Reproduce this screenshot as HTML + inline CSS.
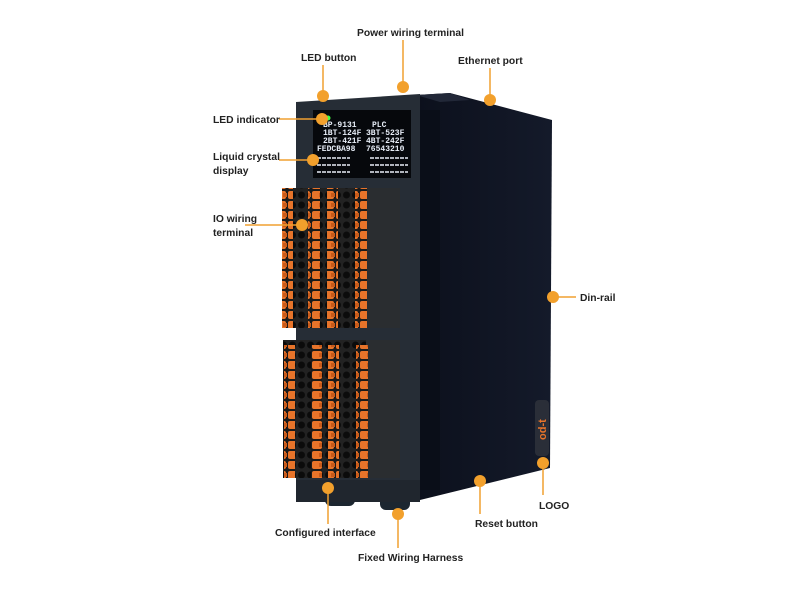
<!DOCTYPE html>
<html><head><meta charset="utf-8"><style>
html,body{margin:0;padding:0;background:#fff}
svg{display:block}
text{font-family:"Liberation Sans",sans-serif;font-size:10.3px;font-weight:bold;fill:#222}
</style></head><body>
<svg width="800" height="600" viewBox="0 0 800 600" xmlns="http://www.w3.org/2000/svg">
<defs>
<pattern id="or" width="12" height="10" patternUnits="userSpaceOnUse">
<rect width="12" height="10" fill="#1a1a1a"/>
<rect x="0" y="1" width="10" height="8" rx="2" fill="#e8742a"/>
<rect x="7" y="3" width="4" height="4" fill="#c85a1a"/>
</pattern>
<pattern id="bk" width="9" height="10" patternUnits="userSpaceOnUse">
<rect width="9" height="10" fill="#222"/>
<circle cx="4.5" cy="5" r="3.5" fill="#0b0b0b"/>
</pattern>
<linearGradient id="side" x1="0" x2="1"><stop offset="0" stop-color="#0c101c"/><stop offset="1" stop-color="#141a2a"/></linearGradient>
</defs>
<rect x="325" y="478" width="30" height="28" rx="6" fill="#1c2630"/>
<rect x="380" y="478" width="30" height="32" rx="6" fill="#1c2630"/>
<polygon points="416,95 450,93 552,120 550,468 420,500" fill="url(#side)"/>
<polygon points="416,95 450,93 470,100 440,102" fill="#222838"/>
<rect x="420" y="110" width="20" height="380" fill="#0a0e18"/>
<polygon points="296,102 420,94 420,502 296,500" fill="#262d36"/>
<rect x="296" y="480" width="124" height="22" fill="#20262e"/>
<rect x="313" y="110" width="98" height="68" fill="#06080c"/>
<g>
<text x="323" y="127" style="font-family:'Liberation Mono',monospace;font-size:8px;fill:#e8eef8">BP-9131</text>
<text x="323" y="135" style="font-family:'Liberation Mono',monospace;font-size:8px;fill:#e8eef8">1BT-124F</text>
<text x="323" y="143" style="font-family:'Liberation Mono',monospace;font-size:8px;fill:#e8eef8">2BT-421F</text>
<text x="317" y="151" style="font-family:'Liberation Mono',monospace;font-size:8px;fill:#e8eef8">FEDCBA98</text>
<text x="372" y="127" style="font-family:'Liberation Mono',monospace;font-size:8px;fill:#e8eef8">PLC</text>
<text x="366" y="135" style="font-family:'Liberation Mono',monospace;font-size:8px;fill:#e8eef8">3BT-523F</text>
<text x="366" y="143" style="font-family:'Liberation Mono',monospace;font-size:8px;fill:#e8eef8">4BT-242F</text>
<text x="366" y="151" style="font-family:'Liberation Mono',monospace;font-size:8px;fill:#e8eef8">76543210</text>
</g>
<g stroke="#e8eef8" stroke-width="1.5" stroke-dasharray="4 1">
<line x1="317" y1="158" x2="350" y2="158"/><line x1="317" y1="165" x2="350" y2="165"/><line x1="317" y1="172" x2="350" y2="172"/>
<line x1="370" y1="158" x2="408" y2="158"/><line x1="370" y1="165" x2="408" y2="165"/><line x1="370" y1="172" x2="408" y2="172"/>
</g>
<circle cx="328" cy="118" r="2.5" fill="#4f4"/>
<rect x="282" y="188" width="118" height="140" fill="url(#bk)"/>
<rect x="366" y="188" width="34" height="140" fill="#2a2d30"/>
<rect x="282" y="188" width="11" height="140" fill="url(#or)"/>
<rect x="308" y="188" width="12" height="140" fill="url(#or)"/>
<rect x="327" y="188" width="11" height="140" fill="url(#or)"/>
<rect x="355" y="188" width="12" height="140" fill="url(#or)"/>
<rect x="283" y="340" width="117" height="138" fill="url(#bk)"/>
<rect x="366" y="340" width="34" height="138" fill="#2a2d30"/>
<rect x="284" y="345" width="11" height="133" fill="url(#or)"/>
<rect x="311" y="345" width="11" height="133" fill="url(#or)"/>
<rect x="328" y="345" width="11" height="133" fill="url(#or)"/>
<rect x="356" y="345" width="12" height="133" fill="url(#or)"/>
<rect x="535" y="400" width="14" height="56" rx="4" fill="#2a2e38"/>
<text x="0" y="0" transform="translate(546,440) rotate(-90)" style="fill:#e8742a;font-size:11px">od-t</text>
<g stroke="#f0a030" stroke-width="1.5" fill="none">
<line x1="403" y1="40" x2="403" y2="87"/>
<line x1="323" y1="65" x2="323" y2="96"/>
<line x1="490" y1="68" x2="490" y2="100"/>
<line x1="279" y1="119" x2="322" y2="119"/>
<line x1="279" y1="160" x2="313" y2="160"/>
<line x1="245" y1="225" x2="302" y2="225"/>
<line x1="553" y1="297" x2="576" y2="297"/>
<line x1="543" y1="463" x2="543" y2="495"/>
<line x1="480" y1="481" x2="480" y2="514"/>
<line x1="328" y1="488" x2="328" y2="524"/>
<line x1="398" y1="514" x2="398" y2="548"/>
</g>
<g fill="#f2a02c">
<circle cx="403" cy="87" r="6"/><circle cx="323" cy="96" r="6"/><circle cx="490" cy="100" r="6"/>
<circle cx="322" cy="119" r="6"/><circle cx="313" cy="160" r="6"/><circle cx="302" cy="225" r="6"/>
<circle cx="553" cy="297" r="6"/><circle cx="543" cy="463" r="6"/><circle cx="480" cy="481" r="6"/>
<circle cx="328" cy="488" r="6"/><circle cx="398" cy="514" r="6"/>
</g>
<text x="357" y="36">Power wiring terminal</text>
<text x="301" y="61">LED button</text>
<text x="458" y="64">Ethernet port</text>
<text x="213" y="123">LED indicator</text>
<text x="213" y="160">Liquid crystal</text>
<text x="213" y="174">display</text>
<text x="213" y="222">IO wiring</text>
<text x="213" y="236">terminal</text>
<text x="580" y="301">Din-rail</text>
<text x="539" y="509">LOGO</text>
<text x="475" y="527">Reset button</text>
<text x="275" y="536">Configured interface</text>
<text x="358" y="561">Fixed Wiring Harness</text>
</svg>
</body></html>
